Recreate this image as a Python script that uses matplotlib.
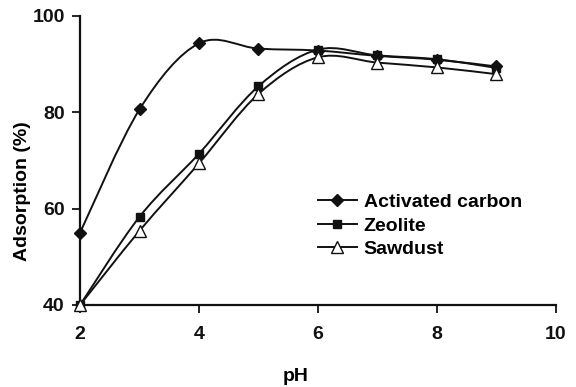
"""Adsorption vs pH for three adsorbents"""

import numpy as np
import matplotlib.pyplot as plt
from matplotlib.path import Path
from matplotlib.patches import PathPatch
from matplotlib.lines import Line2D

plt.rcParams['font.family'] = ['Liberation Sans', 'DejaVu Sans']
plt.rcParams['font.weight'] = 'bold'

ph = [2, 3, 4, 5, 6, 7, 8, 9]
carbon = [55.0, 80.6, 94.3, 93.2, 92.8, 91.7, 90.9, 89.5]
zeolite = [40.0, 58.3, 71.4, 85.4, 93.0, 91.8, 91.0, 89.2]
sawdust = [40.0, 55.4, 69.4, 83.8, 91.4, 90.3, 89.3, 87.9]

labels = ['Activated carbon', 'Zeolite', 'Sawdust']
markers = ['D', 's', '^']
msizes = [6, 6, 8]
mfaces = ['#111111', '#111111', 'white']


def smooth_path(x, y):
    # catmull-rom style smoothing, like a spreadsheet "smoothed line"
    pts = np.column_stack([x, y]).astype(float)
    ext = np.vstack([pts[0], pts, pts[-1]])
    verts = [pts[0]]
    codes = [Path.MOVETO]
    for i in range(1, len(ext) - 2):
        p0, p1, p2, p3 = ext[i - 1], ext[i], ext[i + 1], ext[i + 2]
        verts += [p1 + (p2 - p0) / 6, p2 - (p3 - p1) / 6, p2]
        codes += [Path.CURVE4] * 3
    return Path(verts, codes)


fig = plt.figure(figsize=(5.76, 3.87), dpi=100)
ax = fig.add_axes([0.139, 0.212, 0.826, 0.747])

handles = []
for vals, lab, m, ms, fc in zip([carbon, zeolite, sawdust], labels, markers, msizes, mfaces):
    ax.add_patch(PathPatch(smooth_path(ph, vals), fill=False, edgecolor='#111111', lw=1.4, zorder=2))
    ax.plot(ph, vals, linestyle='none', marker=m, ms=ms, mfc=fc, mec='#111111', mew=1.0, zorder=3,
            clip_on=False)
    handles.append(Line2D([], [], color='#111111', lw=1.4, marker=m, ms=ms, mfc=fc, mec='#111111', mew=1.0))

ax.set_xlim(2, 10)
ax.set_ylim(40, 100)
ax.set_xticks([2, 4, 6, 8, 10])
ax.set_yticks([40, 60, 80, 100])
ax.spines['top'].set_visible(False)
ax.spines['right'].set_visible(False)
for s in ['left', 'bottom']:
    ax.spines[s].set_linewidth(1.6)
    ax.spines[s].set_color('#111111')
ax.tick_params(direction='out', length=6, width=1.3, labelsize=14, colors='#111111')
ax.tick_params(axis='x', pad=9)
ax.tick_params(axis='y', pad=5)

ax.set_xlabel('pH', fontsize=14, fontweight='bold', va='center')
ax.xaxis.set_label_coords(0.454, -0.246)
ax.set_ylabel('Adsorption (%)', fontsize=14, fontweight='bold', va='center')
ax.yaxis.set_label_coords(-0.122, 0.394)

ax.legend(handles, labels, loc='upper left', bbox_to_anchor=(0.50, 0.385), frameon=False,
          fontsize=14, handlelength=2.0, handletextpad=0.35, labelspacing=0.3, borderaxespad=0,
          borderpad=0)

fig.savefig('out.png', dpi=100)
